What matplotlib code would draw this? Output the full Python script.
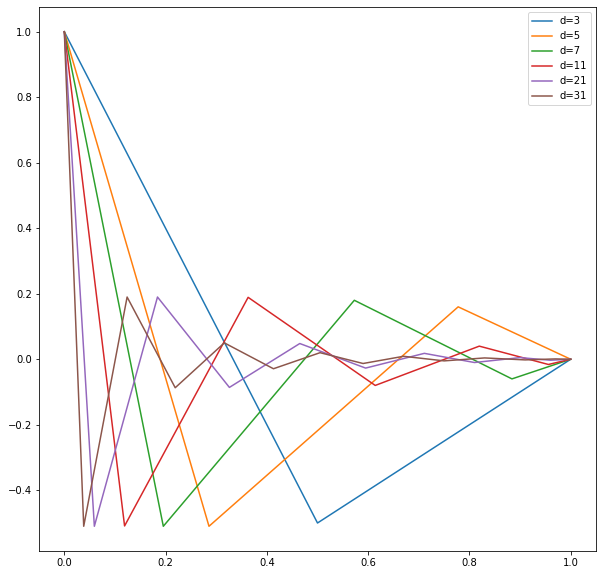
import matplotlib
matplotlib.use('Agg')
import matplotlib.pyplot as plt

# values
x_d3 = [0.0, 0.5, 1.0]
y_d3 = [1.0, -0.5, 0.0]

x_d5 = [0.0, 0.2857, 0.7778, 1.0]
y_d5 = [1.0, -0.51, 0.16, 0.0]

x_d7 = [0.0, 0.1955, 0.5727, 0.884, 1.0]
y_d7 = [1.0, -0.51, 0.18, -0.06, 0.0]

x_d11 = [0.0, 0.119, 0.363, 0.614, 0.8195, 0.956, 1.0]
y_d11 = [1.0, -0.509, 0.189, -0.08, 0.04, -0.016, 0.0]

x_d21 = [0.0, 0.0593, 0.184, 0.326, 0.465, 0.595, 0.711, 0.81, 0.9, 0.96, 1.0]
y_d21 = [1.0, -0.51, 0.19, -0.086, 0.048, -0.027, 0.018, -0.01, 0.005, -0.003, 0.0]

x_d31 = [0.0, 0.0383, 0.124, 0.219, 0.316, 0.413, 0.505, 0.59, 0.67, 0.75, 0.83, 0.91, 0.97, 1.0]
y_d31 = [1.0, -0.51, 0.19, -0.087, 0.05, -0.029, 0.02, -0.013, 0.009, -0.005, 0.004, -0.002, 0.001, 0.0]

series = [
    ('d=3', x_d3, y_d3),
    ('d=5', x_d5, y_d5),
    ('d=7', x_d7, y_d7),
    ('d=11', x_d11, y_d11),
    ('d=21', x_d21, y_d21),
    ('d=31', x_d31, y_d31),
]

fig = plt.figure(figsize=(603 / 72, 575 / 72), dpi=72)
ax = fig.add_axes([39 / 603, 24 / 575, 557 / 603, 544 / 575])

for label, xs, ys in series:
    ax.plot(xs, ys, label=label)

ax.legend()
fig.savefig('out.png', dpi=72)
